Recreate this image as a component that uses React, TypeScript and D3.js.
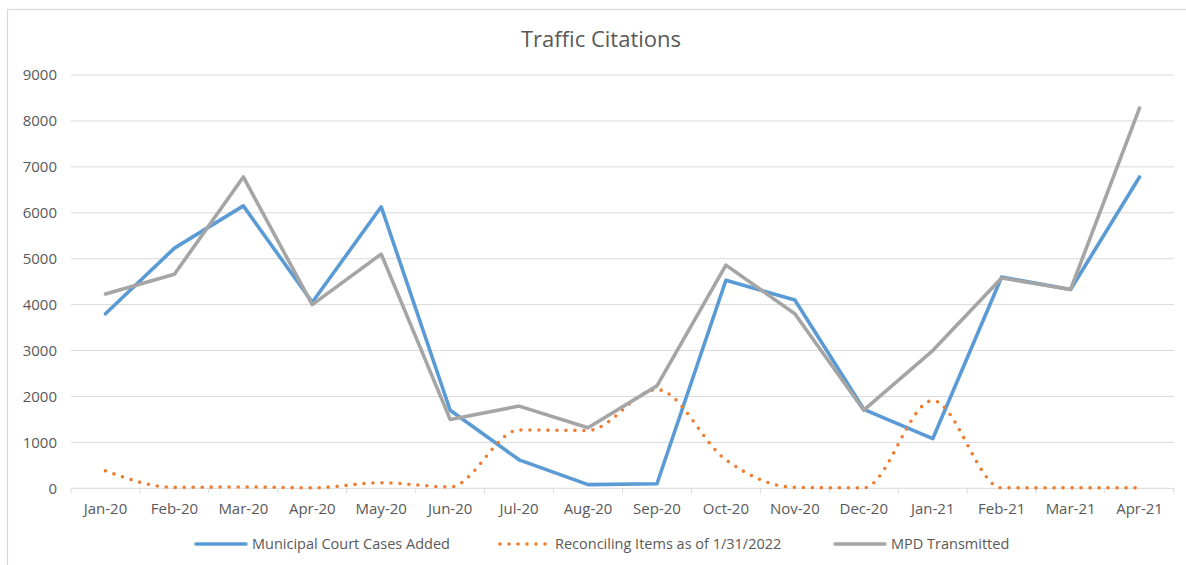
import React from "react";
import * as d3 from "d3";

const categories = ["Jan-20","Feb-20","Mar-20","Apr-20","May-20","Jun-20","Jul-20","Aug-20","Sep-20","Oct-20","Nov-20","Dec-20","Jan-21","Feb-21","Mar-21","Apr-21"];
const municipal = [3800,5230,6150,4050,6130,1700,620,80,100,4530,4100,1720,1080,4600,4330,6780];
const reconciling = [380,20,30,10,120,30,1270,1260,2150,620,20,10,1910,10,10,10];
const mpd = [4230,4660,6780,4000,5100,1500,1790,1320,2230,4860,3800,1700,3000,4580,4330,8280];
const yTicks = [0,1000,2000,3000,4000,5000,6000,7000,8000,9000];

const series = [
  { name: "Municipal Court Cases Added", values: municipal, color: "#5B9BD5", dotted: false },
  { name: "Reconciling Items as of 1/31/2022", values: reconciling, color: "#ED7D31", dotted: true },
  { name: "MPD Transmitted", values: mpd, color: "#A5A5A5", dotted: false },
];

export default function App() {
  const W = 1186, H = 565;
  const left = 71, right = 1174, top = 75, bottom = 488.3;
  const x = d3.scaleBand<string>().domain(categories).range([left, right]);
  const y = d3.scaleLinear().domain([0, 9000]).range([bottom, top]);
  const cx = (c: string) => (x(c) as number) + x.bandwidth() / 2;
  const straight = d3.line<number>().x((_, i) => cx(categories[i])).y(v => y(v));
  const smooth = d3.line<number>().x((_, i) => cx(categories[i])).y(v => y(v)).curve(d3.curveMonotoneX);
  const font = "'Open Sans', sans-serif";
  const legendItems = [
    { s: series[0], lx: 196, tx: 252 },
    { s: series[1], lx: 500, tx: 555 },
    { s: series[2], lx: 835, tx: 891 },
  ];
  return (
    <svg width={W} height={H} style={{ position: "absolute", left: 0, top: 0, background: "#fff" }}>
      <rect x={7.5} y={9.5} width={1200} height={600} fill="#fff" stroke="#d9d9d9" strokeWidth={1.2} />
      <text x={601} y={47} textAnchor="middle" fontFamily={font} fontSize={22} fill="#595959">Traffic Citations</text>
      {yTicks.map(t => (
        <g key={t}>
          <line x1={left} x2={right} y1={y(t)} y2={y(t)} stroke="#d9d9d9" strokeWidth={1} />
          <text x={57} y={y(t)} dy="0.35em" textAnchor="end" fontFamily={font} fontSize={15} fill="#595959">{t}</text>
        </g>
      ))}
      {categories.map(c => (
        <line key={"tk" + c} x1={x(c) as number} x2={x(c) as number} y1={bottom} y2={bottom + 5} stroke="#d9d9d9" />
      ))}
      <line x1={right} x2={right} y1={bottom} y2={bottom + 5} stroke="#d9d9d9" />
      {categories.map(c => (
        <text key={c} x={cx(c)} y={509} dy="0.35em" textAnchor="middle" fontFamily={font} fontSize={15} fill="#595959">{c}</text>
      ))}
      {series.map(s => (
        <path key={s.name} d={(s.dotted ? smooth : straight)(s.values) as string} fill="none" stroke={s.color}
          strokeWidth={3.6} strokeLinecap="round" strokeLinejoin="round"
          strokeDasharray={s.dotted ? "0 9" : undefined} />
      ))}
      {legendItems.map(({ s, lx, tx }) => (
        <g key={"lg" + s.name}>
          <line x1={lx} x2={lx + 50} y1={544} y2={544} stroke={s.color} strokeWidth={3.6} strokeLinecap="round"
            strokeDasharray={s.dotted ? "0 9" : undefined} />
          <text x={tx} y={544} dy="0.35em" fontFamily={font} fontSize={14.5} fill="#595959">{s.name}</text>
        </g>
      ))}
    </svg>
  );
}
